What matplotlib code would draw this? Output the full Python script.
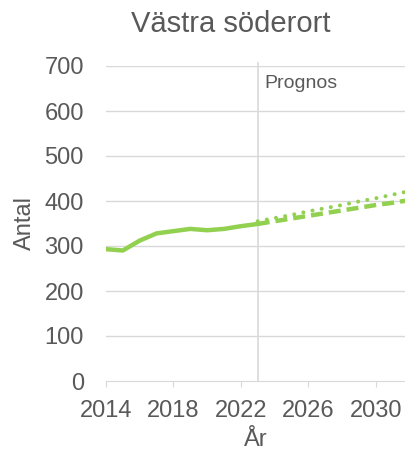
import matplotlib.pyplot as plt

plt.rcParams['font.family'] = ['Liberation Sans', 'DejaVu Sans']

# observed population
years = [2014, 2015, 2016, 2017, 2018, 2019, 2020, 2021, 2022, 2023]
antal = [293, 290, 312, 328, 333, 338, 335, 338, 344, 349]

# forecast scenarios
prog_years = [2023, 2024, 2025, 2026, 2027, 2028, 2029, 2030, 2031, 2032]
prog_high = [355, 362, 369, 377, 384, 391, 399, 406, 414, 422]
prog_low = [349, 355, 361, 367, 373, 379, 385, 391, 396, 402]

green = '#92D050'
grey = '#595959'

fig = plt.figure(figsize=(4.06, 4.55), dpi=100)
ax = fig.add_axes([106/406, 1-381/455, 1-106/406, 315/455])

for y in range(100, 800, 100):
    ax.axhline(y, color='#d9d9d9', lw=1, zorder=0)
ax.axvline(2023, color='#d9d9d9', lw=1.2, ymin=0, ymax=1.01, clip_on=False, zorder=1)
ax.text(2023.4, 660, 'Prognos', fontsize=14, color=grey, va='center')

ax.plot(years, antal, color=green, lw=3.2, solid_capstyle='round', zorder=3)
ax.plot(prog_years, prog_high, color=green, lw=2.9, ls=(0, (0.01, 2.3)), dash_capstyle='round', zorder=3)
ax.plot(prog_years, prog_low, color=green, lw=3.2, ls=(0, (2.7, 1.35)), zorder=3)

ax.set_xlim(2014, 2031.8)
ax.set_ylim(0, 700)
ax.set_xticks([2014, 2018, 2022, 2026, 2030])
ax.set_yticks(range(0, 800, 100))
for s in ['left', 'right', 'top']:
    ax.spines[s].set_visible(False)
ax.spines['bottom'].set_color('#d9d9d9')
ax.tick_params(axis='x', colors='#d9d9d9', labelcolor=grey, labelsize=17, length=4.5, direction='out', pad=9.5)
ax.tick_params(axis='y', length=0, labelcolor=grey, labelsize=17, pad=16)
ax.set_xlabel('År', fontsize=17, color=grey, labelpad=5)
ax.set_ylabel('Antal', fontsize=17, color=grey, labelpad=6)
fig.text(0.569, 1-24/455, 'Västra söderort', ha='center', va='center', fontsize=21, color=grey)

fig.savefig('out.png', dpi=100)
